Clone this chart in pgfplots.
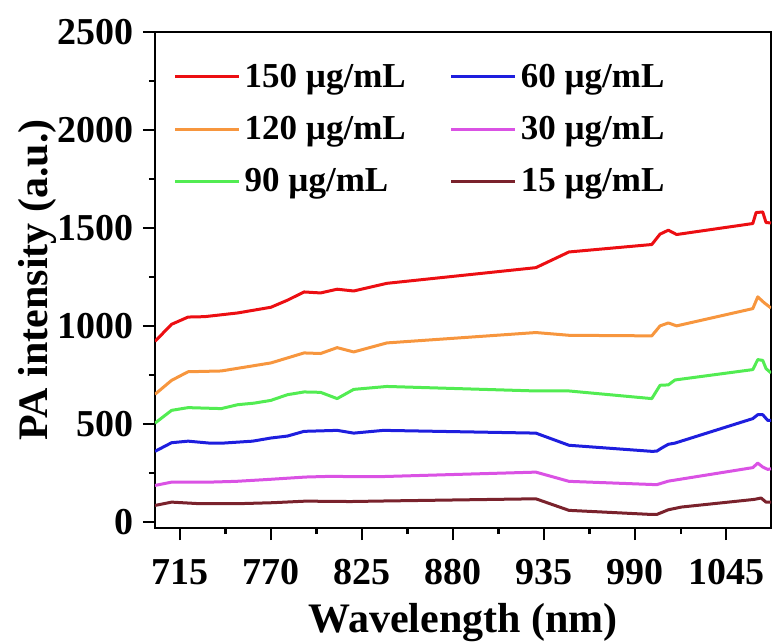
\documentclass[border=0pt]{standalone}
\usepackage{fontspec}
\setmainfont{Liberation Serif}
\usepackage{pgfplots}
\pgfplotsset{compat=1.18}

\definecolor{c150}{RGB}{236,14,18}
\definecolor{c120}{RGB}{247,150,62}
\definecolor{c90}{RGB}{82,236,82}
\definecolor{c60}{RGB}{30,30,222}
\definecolor{c30}{RGB}{218,82,228}
\definecolor{c15}{RGB}{122,34,44}

\begin{document}
\begin{tikzpicture}
\begin{axis}[
  scale only axis,
  width=308pt, height=248pt,
  xmin=700, xmax=1072, ymin=-30, ymax=2500,
  xtick={715,770,825,880,935,990,1045},
  ytick={0,500,1000,1500,2000,2500},
  minor x tick num=1, minor y tick num=1,
  xtick pos=bottom, ytick pos=left,
  tick align=outside,
  major tick length=6pt, minor tick length=3pt,
  every tick/.style={black, line width=1.2pt},
  axis line style={line width=1.3pt},
  /pgf/number format/assume math mode=true,
  /pgf/number format/1000 sep={},
  tick label style={font=\bfseries\fontsize{19}{19}\selectfont},
  xticklabel style={anchor=base, yshift=-22pt},
  yticklabel style={xshift=-1pt},
  xlabel={\bfseries Wavelength (nm)},
  ylabel={\bfseries PA intensity (a.u.)},
  label style={font=\bfseries\fontsize{21}{21}\selectfont},
  xlabel style={at={(axis description cs:0.5,0)}, anchor=base, yshift=-52pt},
  ylabel style={yshift=-6pt},
  legend columns=3,
  transpose legend,
  legend cell align=left,
  legend style={draw=none, fill=none,
    at={(axis description cs:0.02,0.985)}, anchor=north west, yshift=-8pt,
    font=\bfseries\fontsize{17.5}{17.5}\selectfont,
    /tikz/every even column/.append style={column sep=20pt},
    row sep=9pt},
  legend image code/.code={\draw[#1, line width=1.5pt] (0pt,0pt) -- (32pt,0pt);},
  every axis plot/.append style={line width=1.5pt, line join=round},
]
\addplot[c150] coordinates {(700,922)(710,1009)(720,1046)(730,1048)(750,1067)(770,1096)(780,1132)(790,1174)(800,1169)(810,1188)(820,1179)(840,1218)(930,1298)(950,1378)(1000,1416)(1005,1469)(1010,1489)(1015,1467)(1061,1523)(1063,1579)(1067,1582)(1069,1528)(1072,1526)};
\addlegendentry{150 µg/mL}
\addplot[c120] coordinates {(700,652)(710,723)(720,767)(740,771)(770,812)(790,863)(800,860)(810,890)(820,868)(840,914)(930,967)(950,953)(1000,950)(1005,1001)(1010,1016)(1015,1001)(1061,1089)(1064,1149)(1068,1118)(1072,1092)};
\addlegendentry{120 µg/mL}
\addplot[c90] coordinates {(700,505)(710,570)(720,584)(740,579)(750,599)(760,607)(770,621)(780,650)(790,664)(800,662)(810,630)(820,677)(840,692)(930,669)(950,669)(1000,630)(1005,698)(1010,700)(1014,725)(1061,778)(1064,829)(1067,825)(1069,783)(1072,761)};
\addlegendentry{90 µg/mL}
\addplot[c60] coordinates {(700,361)(710,405)(720,413)(733,403)(741,403)(759,413)(770,429)(780,439)(790,463)(810,468)(820,454)(838,468)(930,454)(950,392)(1000,361)(1003,362)(1006,378)(1010,397)(1014,403)(1061,528)(1064,548)(1067,548)(1070,519)(1072,519)};
\addlegendentry{60 µg/mL}
\addplot[c30] coordinates {(700,187)(710,204)(733,204)(749,208)(769,218)(791,230)(804,233)(836,232)(930,255)(950,208)(1003,191)(1010,209)(1061,278)(1064,301)(1067,281)(1070,269)(1072,272)};
\addlegendentry{30 µg/mL}
\addplot[c15] coordinates {(700,85)(710,102)(727,94)(750,94)(771,99)(791,107)(818,105)(840,108)(930,119)(950,60)(1000,39)(1003,39)(1010,63)(1018,77)(1062,116)(1066,123)(1069,102)(1072,102)};
\addlegendentry{15 µg/mL}
\end{axis}
\pgfresetboundingbox
\path[use as bounding box] (current axis.south west) ++(-77.5pt,-57.5pt) rectangle ++(388pt,321.5pt);
\end{tikzpicture}
\end{document}
